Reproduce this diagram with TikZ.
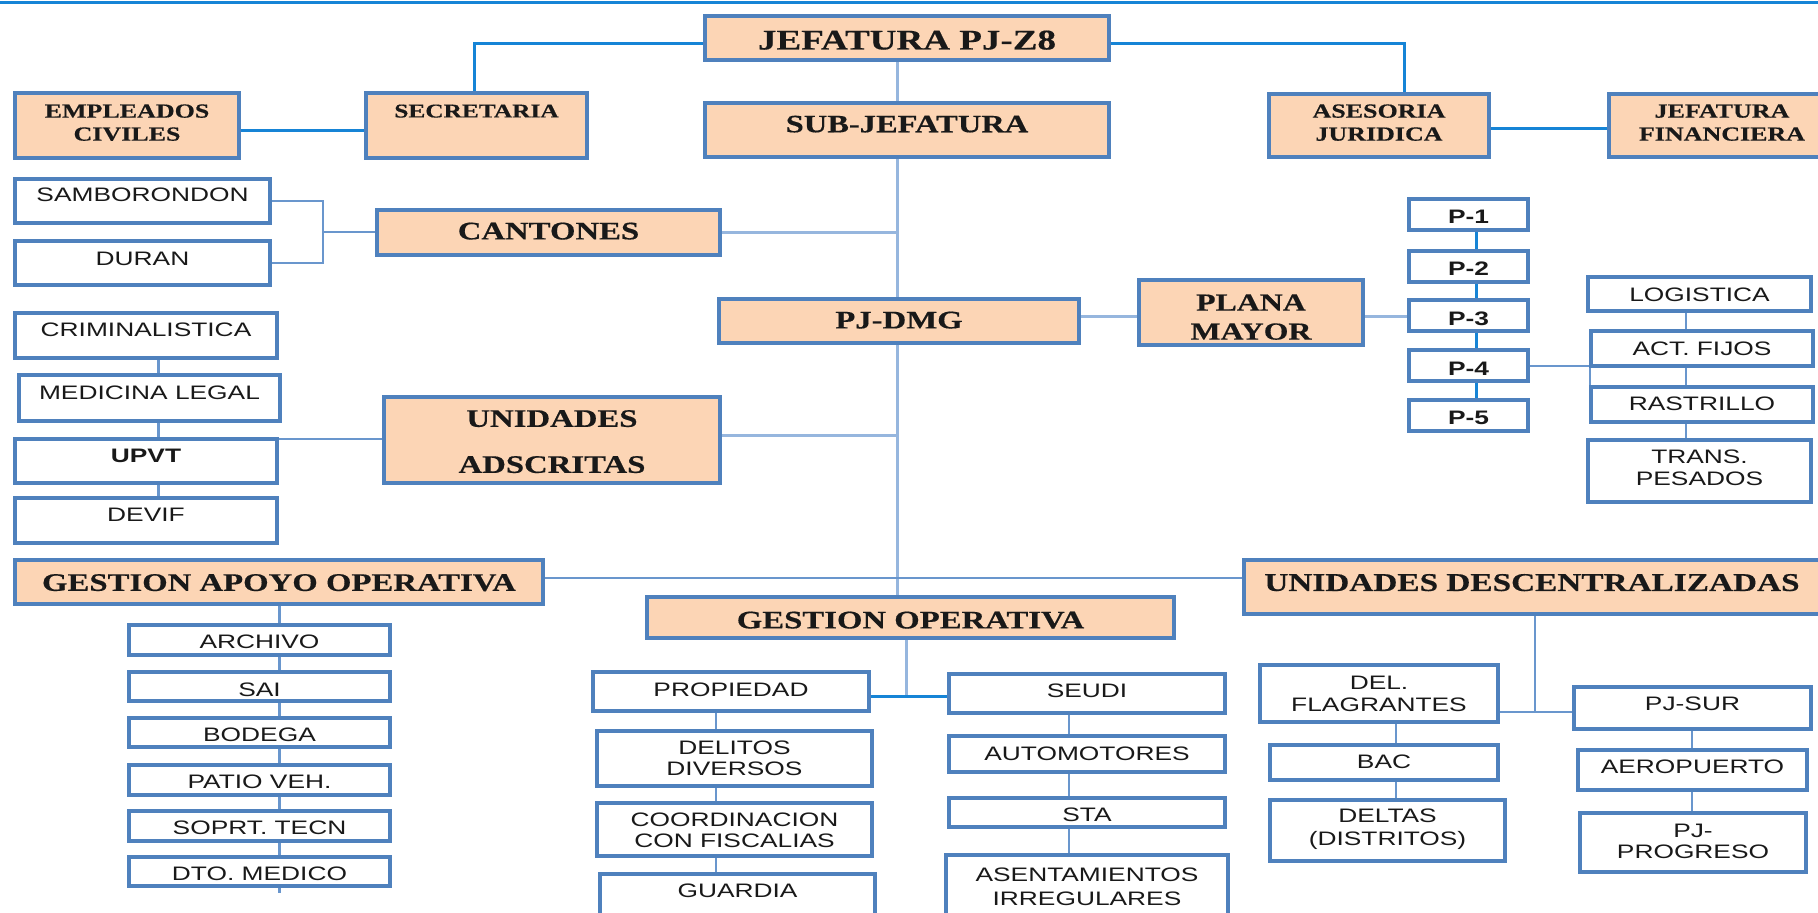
\documentclass[tikz,border=0pt]{standalone}
\usepackage{fontspec}
\newfontfamily\serifb[FakeStretch=1.3,FakeBold=0.4]{Liberation Serif}
\newfontfamily\sansf[FakeStretch=1.35]{Liberation Sans}
\usetikzlibrary{backgrounds}
\definecolor{bord}{RGB}{79,129,189}
\definecolor{peach}{RGB}{252,213,181}
\definecolor{ink}{RGB}{25,25,25}
\definecolor{brightc}{RGB}{22,132,214}
\definecolor{trunkc}{RGB}{150,182,222}
\definecolor{thinc}{RGB}{105,150,205}
\newcommand\pf[2]{\serifb\bfseries\fontsize{#1}{#2}\selectfont}
\newcommand\sfr[1]{\sansf\fontsize{19.5}{#1}\selectfont}
\newcommand\sfbold{\sansf\bfseries\fontsize{19.5}{22}\selectfont}
\newcommand\mybox[9]{%
  \node[#1, minimum width={(#5-#3-4)*1pt}, minimum height={(#6-#4-4)*1pt}] (#2) at ({(#3+#5)/2},{(#4+#6)/2}) {};
  \node[txt, font={#8}] (#2t) at ({(#3+#5)/2},#7) {#9};}
\tikzset{
  pbox/.style={rectangle, draw=bord, line width=4.5pt, fill=peach, inner sep=0pt, outer sep=0pt},
  wbox/.style={rectangle, draw=bord, line width=4.5pt, fill=white, inner sep=0pt, outer sep=0pt},
  txt/.style={text=ink, align=center, inner sep=0pt, text depth=0pt},
  bline/.style={draw=brightc, line width=3pt},
  trunk/.style={draw=trunkc, line width=3pt},
  thinl/.style={draw=thinc, line width=2.2pt},
}
\begin{document}
\begin{tikzpicture}[x=1pt,y=-1pt]
\useasboundingbox (0,0) rectangle (1818,913);
% peach boxes
\mybox{pbox}{jef}{703}{14}{1111}{62}{40}{\pf{28.5}{32}}{JEFATURA PJ-Z8}
\mybox{pbox}{sub}{703}{101}{1111}{159}{124}{\pf{25}{30}}{SUB-JEFATURA}
\mybox{pbox}{emp}{13}{91}{241}{160}{122.5}{\pf{20}{23}}{EMPLEADOS\\CIVILES}
\mybox{pbox}{sec}{364}{91}{589}{160}{111}{\pf{19.5}{23}}{SECRETARIA}
\mybox{pbox}{ase}{1267}{92}{1491}{159}{122.5}{\pf{20}{23}}{ASESORIA\\JURIDICA}
\mybox{pbox}{fin}{1607}{92}{1837}{159}{122.5}{\pf{20}{23}}{JEFATURA\\FINANCIERA}
\mybox{pbox}{can}{375}{208}{722}{257}{231}{\pf{25.2}{30}}{CANTONES}
\mybox{pbox}{pjd}{717}{297}{1081}{345}{320}{\pf{25.2}{30}}{PJ-DMG}
\mybox{pbox}{pla}{1137}{278}{1365}{347}{317}{\pf{24.5}{29}}{PLANA\\MAYOR}
\mybox{pbox}{uad}{382}{395}{722}{485}{441.5}{\pf{25.2}{46}}{UNIDADES\\ADSCRITAS}
\mybox{pbox}{gao}{13}{558}{545}{606}{582.5}{\pf{25.2}{30}}{GESTION APOYO OPERATIVA}
\mybox{pbox}{gop}{645}{595}{1176}{640}{620}{\pf{25.2}{30}}{GESTION OPERATIVA}
\mybox{pbox}{udc}{1242}{558}{1822}{616}{582.5}{\pf{25.6}{30}}{UNIDADES DESCENTRALIZADAS}
% white boxes
\mybox{wbox}{sam}{13}{177}{272}{225}{195}{\sfr{22}}{SAMBORONDON}
\mybox{wbox}{dur}{13}{239}{272}{287}{258.5}{\sfr{22}}{DURAN}
\mybox{wbox}{cri}{13}{311}{279}{360}{330}{\sfr{22}}{CRIMINALISTICA}
\mybox{wbox}{med}{17}{373}{282}{423}{392.5}{\sfr{22}}{MEDICINA LEGAL}
\mybox{wbox}{upv}{13}{437}{279}{485}{456}{\sfbold}{UPVT}
\mybox{wbox}{dev}{13}{496}{279}{545}{515}{\sfr{22}}{DEVIF}
\mybox{wbox}{p1}{1407}{197}{1530}{232}{216.5}{\sfbold}{P-1}
\mybox{wbox}{p2}{1407}{249}{1530}{284}{268.5}{\sfbold}{P-2}
\mybox{wbox}{p3}{1407}{298}{1530}{333}{318.8}{\sfbold}{P-3}
\mybox{wbox}{p4}{1407}{348}{1530}{383}{368.3}{\sfbold}{P-4}
\mybox{wbox}{p5}{1407}{398}{1530}{433}{417.5}{\sfbold}{P-5}
\mybox{wbox}{log}{1586}{275}{1813}{313}{295}{\sfr{22}}{LOGISTICA}
\mybox{wbox}{act}{1589}{329}{1815}{368}{348.5}{\sfr{22}}{ACT. FIJOS}
\mybox{wbox}{ras}{1589}{385}{1815}{424}{403.5}{\sfr{22}}{RASTRILLO}
\mybox{wbox}{tra}{1586}{438}{1813}{504}{467.5}{\sfr{22}}{TRANS.\\PESADOS}
\mybox{wbox}{arc}{127}{623}{392}{657}{642}{\sfr{22}}{ARCHIVO}
\mybox{wbox}{sai}{127}{670}{392}{703}{689.5}{\sfr{22}}{SAI}
\mybox{wbox}{bod}{127}{716}{392}{749}{735}{\sfr{22}}{BODEGA}
\mybox{wbox}{pat}{127}{763}{392}{797}{782}{\sfr{22}}{PATIO VEH.}
\mybox{wbox}{sop}{127}{809}{392}{843}{828}{\sfr{22}}{SOPRT. TECN}
\mybox{wbox}{dmd}{127}{855}{392}{888}{874}{\sfr{22}}{DTO. MEDICO}
\mybox{wbox}{pro}{591}{670}{871}{713}{689.5}{\sfr{22}}{PROPIEDAD}
\mybox{wbox}{del}{595}{729}{874}{788}{758.5}{\sfr{21}}{DELITOS\\DIVERSOS}
\mybox{wbox}{coo}{595}{801}{874}{858}{830}{\sfr{21}}{COORDINACION\\CON FISCALIAS}
\mybox{wbox}{gua}{598}{872}{877}{925}{890.5}{\sfr{22}}{GUARDIA}
\mybox{wbox}{seu}{947}{672}{1227}{715}{691}{\sfr{22}}{SEUDI}
\mybox{wbox}{aut}{947}{734}{1227}{774}{753.5}{\sfr{22}}{AUTOMOTORES}
\mybox{wbox}{sta}{947}{796}{1227}{829}{814.5}{\sfr{22}}{STA}
\mybox{wbox}{asi}{944}{853}{1230}{925}{886.5}{\sfr{24}}{ASENTAMIENTOS\\IRREGULARES}
\mybox{wbox}{flg}{1258}{663}{1500}{724}{693.5}{\sfr{22}}{DEL.\\FLAGRANTES}
\mybox{wbox}{bac}{1268}{743}{1500}{782}{761.5}{\sfr{22}}{BAC}
\mybox{wbox}{dlt}{1268}{798}{1507}{863}{827.5}{\sfr{23}}{DELTAS\\(DISTRITOS)}
\mybox{wbox}{sur}{1572}{685}{1813}{731}{703.5}{\sfr{22}}{PJ-SUR}
\mybox{wbox}{aer}{1576}{748}{1809}{792}{767}{\sfr{22}}{AEROPUERTO}
\mybox{wbox}{prg}{1578}{811}{1808}{874}{841}{\sfr{21}}{PJ-\\PROGRESO}
% helper coordinates
\coordinate (tl) at (0,2);
\coordinate (tr) at (1818,2);
\coordinate (trx) at (897,0);
\coordinate (cb) at (323,232);
\coordinate (cx) at (158.5,0);
\coordinate (ax) at (279.5,0);
\coordinate (dend) at (279.5,893);
\coordinate (gx) at (716,0);
\coordinate (sx) at (1069,0);
\coordinate (fx) at (1396,0);
\coordinate (rx) at (1692,0);
\coordinate (lx) at (1686,0);
\coordinate (px) at (1476,0);
\coordinate (pq) at (1590,366);
\coordinate (gj) at (906.6,696);
\coordinate (uj) at (1535,712);
\begin{scope}[on background layer]
\draw[bline] (tl) -- (tr);
\draw[bline] ([yshift=-5pt]jef.west) -| ([xshift=-2pt]sec.north);
\draw[bline] ([yshift=-5pt]jef.east) -| ([xshift=25.5pt]ase.north);
\draw[bline] ([yshift=-4.5pt]emp.east) -- ([yshift=-4.5pt]sec.west);
\draw[bline] ([yshift=-2.5pt]ase.east) -- ([yshift=-2.5pt]fin.west);
\draw[trunk] ([xshift=-10pt]jef.south) -- ([xshift=-10pt]sub.north);
\draw[trunk] ([xshift=-10pt]sub.south) -- ([xshift=-2pt]pjd.north);
\draw[trunk] ([xshift=-2pt]pjd.south) -- ([xshift=-13.5pt]gop.north);
\draw[trunk] (can.east) -- (can.east -| trx);
\draw[trunk] ([yshift=5pt]uad.east) -- ([yshift=5pt]uad.east -| trx);
\draw[trunk] ([yshift=5pt]pjd.east) -- ([yshift=-3.5pt]pla.west);
\draw[trunk] ([yshift=-3.5pt]pla.east) -- ([yshift=-0.5pt]p3.west);
\draw[thinl] ([yshift=4pt]gao.east) -- ([yshift=9pt]udc.west);
\draw[thinl] (sam.east) -| (cb) |- (dur.east);
\draw[thinl] (cb) -- (cb -| can.west);
\draw[thinl] (upv.north east) -- (upv.north east -| uad.west);
\draw[thinl] (cri.south -| cx) -- (med.north -| cx) (med.south -| cx) -- (upv.north -| cx) (upv.south -| cx) -- (dev.north -| cx);
\draw[thinl] (gao.south -| ax) -- (arc.north -| ax) (arc.south -| ax) -- (sai.north -| ax) (sai.south -| ax) -- (bod.north -| ax) (bod.south -| ax) -- (pat.north -| ax) (pat.south -| ax) -- (sop.north -| ax) (sop.south -| ax) -- (dmd.north -| ax) (dmd.south -| ax) -- (dend);
\draw[thinl] (pro.south -| gx) -- (del.north -| gx) (del.south -| gx) -- (coo.north -| gx) (coo.south -| gx) -- (gua.north -| gx);
\draw[thinl] (seu.south -| sx) -- (aut.north -| sx) (aut.south -| sx) -- (sta.north -| sx) (sta.south -| sx) -- (asi.north -| sx);
\draw[thinl] (flg.south -| fx) -- (bac.north -| fx) (bac.south -| fx) -- (dlt.north -| fx);
\draw[thinl] (sur.south -| rx) -- (aer.north -| rx) (aer.south -| rx) -- (prg.north -| rx);
\draw[thinl] (log.south -| lx) -- (act.north -| lx) (act.south -| lx) -- (ras.north -| lx) (ras.south -| lx) -- (tra.north -| lx);
\draw[bline] (p1.south -| px) -- (p2.north -| px) (p2.south -| px) -- (p3.north -| px) (p3.south -| px) -- (p4.north -| px) (p4.south -| px) -- (p5.north -| px);
\draw[thinl] (p4.east |- pq) -- (pq) -- (pq |- ras.north);
\draw[trunk] (gj |- gop.south) -- (gj);
\draw[bline] (gj -| pro.east) -- (gj -| seu.west);
\draw[thinl] (uj |- udc.south) -- (uj);
\draw[thinl] (uj -| flg.east) -- (uj -| sur.west);
\end{scope}
\end{tikzpicture}
\end{document}
